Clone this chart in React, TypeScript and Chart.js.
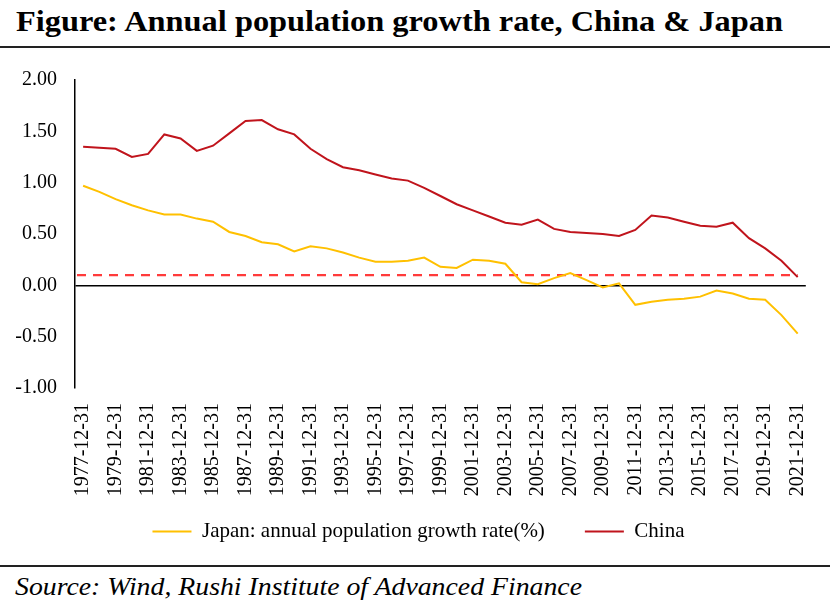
import React, { useEffect, useRef } from "react";
import { Chart, registerables } from "chart.js";

Chart.register(...registerables);

const years: number[] = [
  1977, 1978, 1979, 1980, 1981, 1982, 1983, 1984, 1985, 1986, 1987, 1988, 1989, 1990, 1991,
  1992, 1993, 1994, 1995, 1996, 1997, 1998, 1999, 2000, 2001, 2002, 2003, 2004, 2005, 2006,
  2007, 2008, 2009, 2010, 2011, 2012, 2013, 2014, 2015, 2016, 2017, 2018, 2019, 2020, 2021,
];
const categories: string[] = years.map((y) => `${y}-12-31`);

const japanGrowth: number[] = [
  0.97, 0.91, 0.84, 0.78, 0.73, 0.69, 0.69, 0.65, 0.62, 0.52, 0.48, 0.42, 0.4, 0.33, 0.38,
  0.36, 0.32, 0.27, 0.23, 0.23, 0.24, 0.27, 0.18, 0.17, 0.25, 0.24, 0.21, 0.03, 0.01, 0.07,
  0.12, 0.05, -0.02, 0.02, -0.19, -0.16, -0.14, -0.13, -0.11, -0.05, -0.08, -0.13, -0.14, -0.29, -0.47,
];
const chinaGrowth: number[] = [
  1.35, 1.34, 1.33, 1.25, 1.28, 1.47, 1.43, 1.31, 1.36, 1.48, 1.6, 1.61, 1.52, 1.47, 1.33,
  1.23, 1.15, 1.12, 1.08, 1.04, 1.02, 0.95, 0.87, 0.79, 0.73, 0.67, 0.61, 0.59, 0.64, 0.55,
  0.52, 0.51, 0.5, 0.48, 0.54, 0.68, 0.66, 0.62, 0.58, 0.57, 0.61, 0.46, 0.36, 0.24, 0.08,
];
const seriesNames: string[] = ["Japan: annual population growth rate(%)", "China"];
const referenceLevel = 0.1;
const yMin = -1;
const yMax = 2;
const yStep = 0.5;

const SERIF = "'Liberation Serif', 'Times New Roman', serif";
const JAPAN_COLOR = "#FFC000";
const CHINA_COLOR = "#C0141C";

const refLinePlugin = {
  id: "refLine",
  beforeDatasetsDraw(chart: any) {
    const { ctx, chartArea, scales } = chart;
    const y = scales.y.getPixelForValue(referenceLevel);
    const x0 = chartArea.left + 2;
    const x1 = scales.x.getPixelForValue(categories.length - 1);
    ctx.save();
    ctx.strokeStyle = "#FF3B3B";
    ctx.lineWidth = 2.2;
    ctx.setLineDash([9, 7]);
    ctx.beginPath();
    ctx.moveTo(x0, y);
    ctx.lineTo(x1, y);
    ctx.stroke();
    ctx.restore();
  },
};

function GrowthChart() {
  const ref = useRef<HTMLCanvasElement | null>(null);
  useEffect(() => {
    if (!ref.current) return;
    const chart = new Chart(ref.current, {
      type: "line",
      data: {
        labels: categories,
        datasets: [
          {
            label: seriesNames[0],
            data: japanGrowth,
            borderColor: JAPAN_COLOR,
            backgroundColor: JAPAN_COLOR,
            borderWidth: 2,
            pointRadius: 0,
            tension: 0,
          },
          {
            label: seriesNames[1],
            data: chinaGrowth,
            borderColor: CHINA_COLOR,
            backgroundColor: CHINA_COLOR,
            borderWidth: 2,
            pointRadius: 0,
            tension: 0,
          },
        ],
      },
      options: {
        animation: false,
        responsive: false,
        maintainAspectRatio: false,
        layout: { padding: { top: 27, left: 29, right: 29, bottom: 8 } },
        plugins: {
          tooltip: { enabled: false },
          legend: {
            position: "bottom",
            labels: {
              font: { family: SERIF, size: 21 },
              color: "#000",
              boxWidth: 39,
              boxHeight: 2,
              padding: 40,
              generateLabels: (c: any) =>
                c.data.datasets.map((d: any, i: number) => ({
                  text: d.label,
                  fillStyle: d.borderColor,
                  strokeStyle: d.borderColor,
                  lineWidth: 0,
                  hidden: false,
                  datasetIndex: i,
                  fontColor: "#000",
                })),
            },
          },
        },
        scales: {
          x: {
            type: "category",
            offset: true,
            grid: { display: false, drawTicks: false },
            border: { display: false },
            ticks: {
              autoSkip: false,
              minRotation: 90,
              maxRotation: 90,
              padding: 15,
              color: "#000",
              font: { family: SERIF, size: 20 },
              callback: (_v: any, i: number) => (i % 2 === 0 ? categories[i] : ""),
            },
            afterFit: (s: any) => {
              s.height = 93;
              s._computeLabelArea = () => undefined;
            },
          },
          y: {
            min: yMin,
            max: yMax,
            grid: {
              display: true,
              drawTicks: false,
              color: (c: any) => (c.tick && c.tick.value === 0 ? "#000" : "rgba(0,0,0,0)"),
              lineWidth: 1.4,
            },
            border: { display: true, color: "#000", width: 1.5 },
            ticks: {
              stepSize: yStep,
              padding: 18,
              color: "#000",
              font: { family: SERIF, size: 20 },
              callback: (v: any) => Number(v).toFixed(2),
            },
            afterFit: (s: any) => {
              s.width = 46;
              s._computeLabelArea = () => undefined;
            },
          },
        },
      },
      plugins: [refLinePlugin],
    });
    return () => chart.destroy();
  }, []);
  return (
    <canvas
      ref={ref}
      width={837}
      height={510}
      style={{ position: "absolute", left: 0, top: 50, width: 837, height: 510 }}
    />
  );
}

export default function App() {
  return (
    <div
      style={{
        position: "fixed",
        left: 0,
        top: 0,
        width: 837,
        height: 610,
        background: "#fff",
        overflow: "hidden",
      }}
    >
      <svg width={837} height={610} style={{ position: "absolute", left: 0, top: 0 }}>
        <text
          x={16}
          y={31}
          textLength={767}
          lengthAdjust="spacingAndGlyphs"
          style={{ fontFamily: SERIF, fontWeight: "bold", fontSize: 30 }}
          fill="#000"
        >
          Figure: Annual population growth rate, China &amp; Japan
        </text>
        <rect x={0} y={46} width={830} height={2} fill="#222" />
        <rect x={0} y={565} width={830} height={2} fill="#222" />
        <text
          x={15}
          y={595}
          textLength={567}
          lengthAdjust="spacingAndGlyphs"
          style={{ fontFamily: SERIF, fontStyle: "italic", fontSize: 26 }}
          fill="#000"
        >
          Source: Wind, Rushi Institute of Advanced Finance
        </text>
      </svg>
      <GrowthChart />
    </div>
  );
}
